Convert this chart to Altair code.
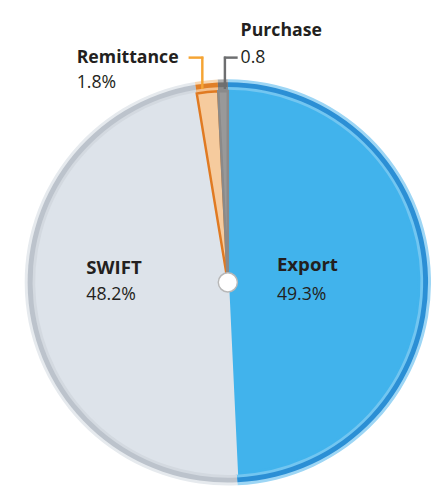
import math
import altair as alt
import pandas as pd

categories = ["Export", "SWIFT", "Remittance", "Purchase"]
values = [49.3, 48.2, 1.8, 0.8]
value_labels = ["49.3%", "48.2%", "1.8%", "0.8"]

halo_colors = ["#9dd6f5", "#e6eaee", "#f7d7b3", "#b0b0b0"]
rim_colors = ["#2b8fd5", "#bcc3cc", "#e07f28", "#707070"]
inner_rim_colors = ["#72c6f1", "#d3d9e0", "#f4c08c", "#8c8c8c"]
main_colors = ["#41b3ec", "#dde3ea", "#f6cb9e", "#999999"]
stroke_colors = ["#41b3ec", "#dde3ea", "#e07a22", "#8a8a8a"]

df = pd.DataFrame({
    "cat": categories,
    "value": values,
    "label": value_labels,
    "idx": list(range(len(categories))),
})
total = sum(values)

CX, CY = 224, 275
FONT = "Open Sans"

theta_scale = alt.Scale(domain=[0, total], range=[0, 2 * math.pi])
base = alt.Chart(df)


def arc_layer(radius, colors, stroke=None, sw=0):
    enc = dict(
        theta=alt.Theta("value:Q", stack=True, scale=theta_scale),
        order=alt.Order("idx:Q"),
        color=alt.Color("cat:N", scale=alt.Scale(domain=categories, range=colors), legend=None),
        x=alt.value(CX),
        y=alt.value(CY),
    )
    if stroke is None:
        m = base.mark_arc(radius=radius, strokeWidth=0)
    else:
        m = base.mark_arc(radius=radius, strokeWidth=sw)
        enc["stroke"] = alt.Stroke("cat:N", scale=alt.Scale(domain=categories, range=stroke), legend=None)
    return m.encode(**enc)


halo = arc_layer(207, halo_colors)
rim = arc_layer(204, rim_colors)
inner_rim = arc_layer(199, inner_rim_colors)
main = arc_layer(195, main_colors, stroke=stroke_colors, sw=2.5)


def label_layer(cat, field, radius, dy, bold, size):
    return base.transform_window(
        cum="sum(value)", sort=[alt.SortField("idx")]
    ).transform_calculate(
        mid="datum.cum - datum.value / 2"
    ).transform_filter(
        alt.datum.cat == cat
    ).mark_text(
        radius=radius, dy=dy, align="left", baseline="alphabetic",
        font=FONT, fontSize=size, fontWeight="bold" if bold else "normal",
        color="#231f20",
    ).encode(
        theta=alt.Theta("mid:Q", scale=theta_scale),
        text=alt.Text(field),
        x=alt.value(CX),
        y=alt.value(CY),
    )


export_name = label_layer("Export", "cat:N", 50, -10, True, 19)
export_val = label_layer("Export", "label:N", 50, 19, False, 18)
swift_name = label_layer("SWIFT", "cat:N", 145, -24, True, 19)
swift_val = label_layer("SWIFT", "label:N", 145, 3, False, 18)


def callout_text(cat, field, x, y, bold):
    return base.transform_filter(alt.datum.cat == cat).mark_text(
        align="left", baseline="alphabetic", font=FONT, fontSize=18,
        fontWeight="bold" if bold else "normal", color="#231f20",
    ).encode(text=alt.Text(field), x=alt.value(x), y=alt.value(y))


rem_name = callout_text("Remittance", "cat:N", 70, 51, True)
rem_val = callout_text("Remittance", "label:N", 70, 77, False)
pur_name = callout_text("Purchase", "cat:N", 237, 24, True)
pur_val = callout_text("Purchase", "label:N", 237, 51, False)

leader_df = pd.DataFrame({"k": [0]})
lb = alt.Chart(leader_df)
orange_h = lb.mark_rule(color="#f5a433", strokeWidth=2.5).encode(
    x=alt.value(184), x2=alt.value(199), y=alt.value(46))
orange_v = lb.mark_rule(color="#f5a433", strokeWidth=2.5).encode(
    x=alt.value(198), y=alt.value(45), y2=alt.value(78))
gray_v = lb.mark_rule(color="#6d6e70", strokeWidth=2.5).encode(
    x=alt.value(221), y=alt.value(45), y2=alt.value(78))
gray_h = lb.mark_rule(color="#6d6e70", strokeWidth=2.5).encode(
    x=alt.value(220), x2=alt.value(234), y=alt.value(46))

center = lb.mark_point(shape="circle", filled=True, fill="white", stroke="#b8b8b8",
                       strokeWidth=1.5, size=380, opacity=1).encode(
    x=alt.value(CX), y=alt.value(CY))

chart = alt.layer(
    halo, rim, inner_rim, main,
    orange_h, orange_v, gray_v, gray_h,
    center,
    export_name, export_val, swift_name, swift_val,
    rem_name, rem_val, pur_name, pur_val,
).resolve_scale(
    color="independent", stroke="independent"
).properties(
    width=420, height=468, padding=0, background="white"
).configure_view(stroke=None)

chart.save("out.html", embed_options={"renderer": "svg", "actions": False})
